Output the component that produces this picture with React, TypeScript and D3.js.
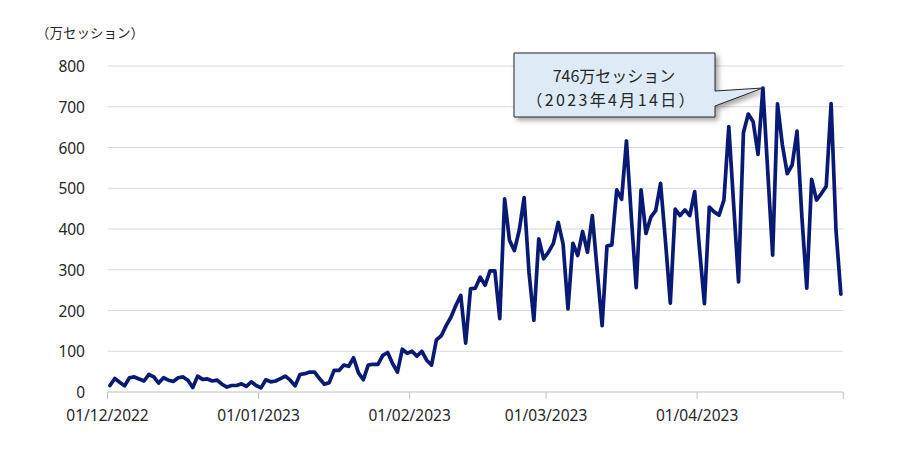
import React from "react";
import * as d3 from "d3";

const startDate = new Date(2022, 11, 1);
const endDate = new Date(2023, 4, 1);

const decValues = [16, 33, 24, 15, 35, 37, 32, 27, 43, 37, 22, 35, 29, 26, 35, 37, 29, 11, 39, 31, 32, 27, 29, 19, 12, 16, 16, 20, 14, 25, 16];
const janValues = [10, 30, 25, 27, 33, 39, 29, 15, 43, 45, 49, 49, 33, 19, 23, 53, 53, 66, 63, 84, 47, 30, 66, 68, 68, 90, 97, 70, 49, 105, 95];
const febValues = [100, 88, 100, 78, 66, 128, 138, 163, 184, 213, 237, 120, 253, 255, 282, 262, 297, 297, 180, 474, 372, 347, 397, 477, 294, 176, 376, 327];
const marValues = [343, 365, 416, 363, 204, 365, 335, 394, 343, 433, 298, 163, 358, 361, 496, 473, 616, 429, 256, 496, 389, 429, 445, 512, 371, 218, 449, 433, 447, 433, 492];
const aprValues = [350, 217, 454, 442, 434, 471, 651, 460, 270, 636, 682, 663, 583, 746, 540, 336, 707, 606, 536, 557, 640, 430, 255, 522, 471, 487, 505, 708, 397, 240];

const sessions = [...decValues, ...janValues, ...febValues, ...marValues, ...aprValues];

const yTicks = [0, 100, 200, 300, 400, 500, 600, 700, 800];
const xTickDates = [
  new Date(2022, 11, 1),
  new Date(2023, 0, 1),
  new Date(2023, 1, 1),
  new Date(2023, 2, 1),
  new Date(2023, 3, 1),
  new Date(2023, 4, 1),
];
const xTickLabels = ["01/12/2022", "01/01/2023", "01/02/2023", "01/03/2023", "01/04/2023", ""];

const unitLabel = "（万セッション）";
const calloutLine1 = "746万セッション";
const calloutLine2 = "（2023年4月14日）";

const FONT = "'Noto Sans', 'Noto Sans CJK JP', sans-serif";
const JFONT = "'Noto Sans CJK JP', sans-serif";

export default function App() {
  const x = d3.scaleTime().domain([startDate, endDate]).range([107.5, 843.3]);
  const y = d3.scaleLinear().domain([0, 800]).range([392, 66]);

  const points = sessions.map((v, i) => ({
    date: d3.timeHour.offset(d3.timeDay.offset(startDate, i), 12),
    value: v,
  }));

  const line = d3
    .line<{ date: Date; value: number }>()
    .x((d) => x(d.date))
    .y((d) => y(d.value));

  const peak = points.reduce((a, b) => (b.value > a.value ? b : a));
  const px = x(peak.date);
  const py = y(peak.value);

  const bx0 = 514;
  const bx1 = 715;
  const by0 = 53;
  const by1 = 117;
  const calloutPath = `M${bx0},${by0} L${bx1},${by0} L${bx1},${by0 + 38} L${px},${py} L${bx1},${by0 + 53} L${bx1},${by1} L${bx0},${by1} Z`;

  return (
    <svg
      width={900}
      height={450}
      style={{ position: "absolute", left: 0, top: 0, background: "#fff" }}
      fontFamily={FONT}
    >
      <defs>
        <filter id="shadow" x="-20%" y="-20%" width="150%" height="160%">
          <feDropShadow dx="3" dy="3" stdDeviation="2.5" floodColor="#000" floodOpacity="0.35" />
        </filter>
      </defs>
      <rect width={900} height={450} fill="#fff" />

      <text x={90} y={32} textAnchor="middle" dominantBaseline="central" fontSize={13.5} fill="#262626" fontFamily={JFONT}>
        {unitLabel}
      </text>

      {yTicks.map((t) => (
        <g key={t}>
          {t > 0 && (
            <line x1={107.5} x2={843.3} y1={y(t)} y2={y(t)} stroke="#d9d9d9" strokeWidth={1} />
          )}
          <text x={85} y={y(t)} textAnchor="end" dominantBaseline="central" fontSize={15.5} fill="#262626">
            {t}
          </text>
        </g>
      ))}

      <line x1={107.5} x2={843.3} y1={y(0)} y2={y(0)} stroke="#bfbfbf" strokeWidth={1} />
      {xTickDates.map((d, i) => (
        <g key={i}>
          <line x1={x(d)} x2={x(d)} y1={y(0)} y2={y(0) + 7} stroke="#bfbfbf" strokeWidth={1} />
          <text x={x(d)} y={415} textAnchor="middle" dominantBaseline="central" fontSize={15.5} fill="#262626">
            {xTickLabels[i]}
          </text>
        </g>
      ))}

      <path
        d={line(points) || ""}
        fill="none"
        stroke="#091a75"
        strokeWidth={3.7}
        strokeLinejoin="round"
        strokeLinecap="round"
      />

      <path d={calloutPath} fill="#deebf7" stroke="#262626" strokeWidth={1} filter="url(#shadow)" />
      <text x={614} y={75} textAnchor="middle" dominantBaseline="central" fontSize={16} fill="#262626" fontFamily={JFONT}>
        {calloutLine1}
      </text>
      <text
        x={610.5}
        y={99}
        textAnchor="middle"
        dominantBaseline="central"
        fontSize={16}
        fill="#262626"
        fontFamily={JFONT}
        textLength={168}
        lengthAdjust="spacing"
      >
        {calloutLine2}
      </text>
    </svg>
  );
}
